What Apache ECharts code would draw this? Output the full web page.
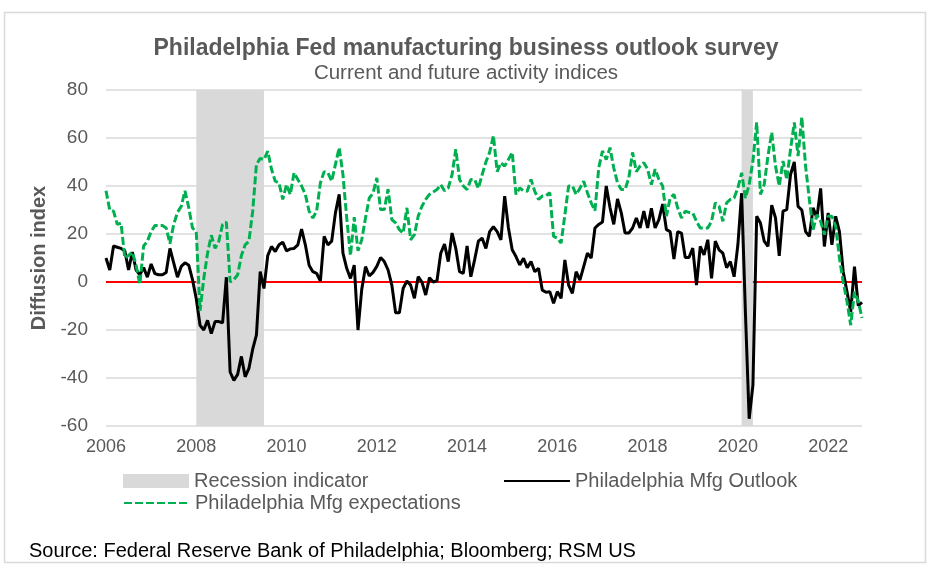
<!DOCTYPE html>
<html>
<head>
<meta charset="utf-8">
<script src="https://cdn.jsdelivr.net/npm/echarts@6/dist/echarts.min.js"></script>
<style>
  html, body { margin: 0; padding: 0; background: #fff; }
  #chart { width: 938px; height: 573px; }
</style>
</head>
<body>
<div id="chart"></div>
<script>
// monthly readings, Jan 2006 .. Oct 2022
const outlook = [
  10, 5, 15, 14.5, 14, 13, 5, 12.5, 5, 3, 6, 2,                 // 2006
  7.5, 3.5, 3, 3, 4, 14, 8, 2, 6.5, 8, 7, 1,                    // 2007
  -7, -18, -20, -16, -21.5, -16.5, -16.5, -17, 2, -37.5, -41, -38.5, // 2008
  -31, -39.5, -36, -28, -22, 4.3, -2.7, 11, 14.8, 12.7, 15.5, 16.6,  // 2009
  13, 13.8, 14, 15.5, 22, 15.5, 7, 4.3, 3.6, 0.4, 19, 15.5,     // 2010
  17, 28.8, 36.5, 12, 5.7, 1.5, 7, -20, -3, 6.4, 2.5, 4,        // 2011
  6.5, 10.2, 8.5, 5, -1.3, -12.8, -12.8, -2.7, 0.4, -1.3, -6.8, 2.2, // 2012
  0, -5.4, 1.8, 0, 0.5, 12, 15.8, 8.5, 20.4, 14, 4.3, 3.6,      // 2013
  15, 2.2, 9.2, 17, 18.3, 14, 21, 23, 21, 17.6, 35.8, 22.5,     // 2014
  13.4, 10.6, 7.1, 9.9, 6, 8.5, 4.3, 5.7, -3.4, -4.3, -4, -8.9, // 2015
  -4, -6.8, 9.2, -1.3, -4.7, 4.3, 0.8, 6.4, 12, 10, 22.5, 24,   // 2016
  25, 40, 31, 24, 34.6, 28.8, 20.4, 20.4, 22.5, 26.7, 22.5, 29.5, // 2017
  22.5, 30.7, 22.5, 26, 32.5, 21.8, 21, 9.6, 21, 20.4, 10.2, 10.2, // 2018
  14.1, -1.3, 14.8, 11.3, 17.6, 1.5, 17, 13.4, 12, 6, 8.5, 2.2, // 2019
  15.5, 37, -12.5, -57, -43, 27.4, 24.6, 17, 14.8, 32, 26.7, 10.9, // 2020
  29.5, 30.2, 44.8, 50, 31.5, 30, 21, 19, 30.9, 26.7, 39, 14.8, // 2021
  28.8, 15.5, 27.4, 21, 4.3, -4, -12.4, 6.4, -9.8, -8.5         // 2022
];

const expectations = [
  38, 30, 29.5, 24, 24.5, 10, 11, 12.5, 7, -1, 15, 17,          // 2006
  21, 23.5, 23.5, 23.5, 22.5, 16, 24, 29, 31.5, 38, 31, 22.5,   // 2007
  21, -12, 1.5, 12, 19.5, 14, 17, 24, 25, 0, 1, 3,              // 2008
  11, 15.5, 17, 29.5, 49, 51.5, 51, 54.5, 47, 42, 41.3, 34.4,   // 2009
  40.6, 36.5, 45.5, 42.7, 40, 36.5, 29.5, 26.7, 29.5, 41.3, 46, 45.5, // 2010
  42, 49, 56, 44.7, 26.7, 11, 27, 13, 17.6, 26.7, 35, 37,       // 2011
  43.4, 30.2, 30.2, 38.7, 26, 24.6, 21.8, 20.4, 30.9, 17.6, 19.7, 27.4, // 2012
  31.6, 34.4, 36.5, 37.5, 38.5, 40.6, 38, 39.2, 44.7, 55.3, 42.7, 40, // 2013
  38.5, 42.7, 42.7, 39, 44.7, 50, 54, 61, 46, 49.7, 48.3, 51,   // 2014
  54, 36.5, 39.2, 38, 37.8, 42.7, 37.8, 34.4, 35.8, 36, 37.2, 19, // 2015
  18.3, 16.2, 28, 40, 40, 36.5, 39, 42, 37.2, 33, 29.7, 47.5,   // 2016
  54.6, 51, 56, 47.5, 41.3, 38.5, 38.5, 43.4, 54, 46, 48.3, 49.7, // 2017
  47, 40.6, 47, 42.7, 40, 27.4, 35, 36.5, 30.9, 26.7, 29.5, 29, // 2018
  28.8, 25.3, 22.5, 22.5, 22.5, 25.3, 33, 31.6, 25.3, 33, 34.4, 35, // 2019
  39.2, 45.5, 35, 40.6, 50.4, 66.5, 36.5, 40.6, 52.5, 62.3, 48.3, 40, // 2020
  50.4, 42.7, 55.3, 66.5, 52.5, 68.7, 48.3, 34.4, 21.8, 28, 25.3, 19.7, // 2021
  27.4, 27.4, 23.2, 10, 0, -8, -18, -4, -8, -15                 // 2022
];

// recession shading, first and last month of each band
const recessions = [
  ['2008-01', '2009-07'],
  ['2020-02', '2020-05']
];

const firstYear = 2006;
const months = [];
for (let i = 0; i < outlook.length; i++) {
  const m = i % 12 + 1;
  months.push((firstYear + Math.floor(i / 12)) + '-' + (m < 10 ? '0' + m : m));
}

const font = 'Liberation Sans, Arial, sans-serif';
const grey = '#595959';
const legendText = { color: grey, fontSize: 20, fontFamily: font };
// line legends: keep the line, hide the marker dot
const noDot = { color: 'rgba(0,0,0,0)', borderColor: 'rgba(0,0,0,0)', borderWidth: 0 };

const chart = echarts.init(document.getElementById('chart'), null, { renderer: 'canvas' });

chart.setOption({
  animation: false,
  backgroundColor: '#fff',
  textStyle: { fontFamily: font },
  title: [
    {
      text: 'Philadelphia Fed manufacturing business outlook survey',
      left: 461, top: 32, textAlign: 'center',
      textStyle: { color: grey, fontSize: 23, fontWeight: 'bold', fontFamily: font }
    },
    {
      text: 'Current and future activity indices',
      left: 461, top: 58, textAlign: 'center',
      textStyle: { color: grey, fontSize: 20.5, fontWeight: 'normal', fontFamily: font }
    },
    {
      text: 'Source: Federal Reserve Bank of Philadelphia; Bloomberg; RSM US',
      left: 24, top: 536,
      textStyle: { color: '#000', fontSize: 20, fontWeight: 'normal', fontFamily: font }
    }
  ],
  graphic: [{
    type: 'rect',
    shape: { x: 4.5, y: 12.5, width: 921, height: 550 },
    style: { fill: 'none', stroke: '#d9d9d9', lineWidth: 1.5 },
    silent: true
  }],
  grid: { left: 106, right: 76, top: 90, bottom: 147 },
  legend: [
    {
      data: [{ name: 'Recession indicator', icon: 'rect', itemStyle: { color: '#d9d9d9' } }],
      left: 123, top: 471, itemWidth: 66, itemHeight: 14, padding: 0,
      textStyle: legendText, selectedMode: false
    },
    {
      data: [{ name: 'Philadelphia Mfg Outlook', itemStyle: noDot }],
      left: 503, top: 471, itemWidth: 66, itemHeight: 14, padding: 0,
      textStyle: legendText, selectedMode: false
    },
    {
      data: [{ name: 'Philadelphia Mfg expectations', itemStyle: noDot }],
      left: 123, top: 493, itemWidth: 66, itemHeight: 14, padding: 0,
      textStyle: legendText, selectedMode: false
    }
  ],
  xAxis: {
    type: 'category',
    data: months,
    boundaryGap: false,
    axisLine: { show: false, onZero: false },
    axisTick: { show: false },
    splitLine: { show: false },
    axisLabel: {
      interval: (idx) => idx % 24 === 0,
      formatter: (v) => v.slice(0, 4),
      color: grey, fontSize: 18, margin: 12, fontFamily: font
    }
  },
  yAxis: {
    type: 'value',
    min: -60, max: 80, interval: 20,
    axisLine: { show: false },
    axisTick: { show: false },
    splitLine: { lineStyle: { color: '#d9d9d9', width: 1.5 } },
    axisLabel: { color: grey, fontSize: 19, margin: 18, fontFamily: font },
    name: 'Diffusion index',
    nameLocation: 'middle',
    nameGap: 56,
    nameTextStyle: { color: grey, fontSize: 20, fontWeight: 'bold', fontFamily: font }
  },
  series: [
    {
      name: 'Recession indicator',
      type: 'line',
      data: [],
      itemStyle: { color: '#d9d9d9' },
      lineStyle: { color: '#d9d9d9' },
      markLine: {
        silent: true, symbol: 'none', z: 1,
        label: { show: false },
        lineStyle: { color: '#ff0000', width: 2, type: 'solid' },
        data: [{ yAxis: 0 }]
      },
      markArea: {
        silent: true, z: 2,
        itemStyle: { color: '#d9d9d9' },
        data: recessions.map(r => [{ xAxis: r[0] }, { xAxis: r[1] }])
      }
    },
    {
      name: 'Philadelphia Mfg Outlook',
      type: 'line',
      data: outlook,
      symbol: 'none',
      z: 4,
      lineStyle: { color: '#000000', width: 3 },
      itemStyle: { color: '#000000' }
    },
    {
      name: 'Philadelphia Mfg expectations',
      type: 'line',
      data: expectations,
      symbol: 'none',
      z: 5,
      lineStyle: { color: '#00b050', width: 3, type: [8, 3] },
      itemStyle: { color: '#00b050' }
    }
  ]
});
</script>
</body>
</html>
